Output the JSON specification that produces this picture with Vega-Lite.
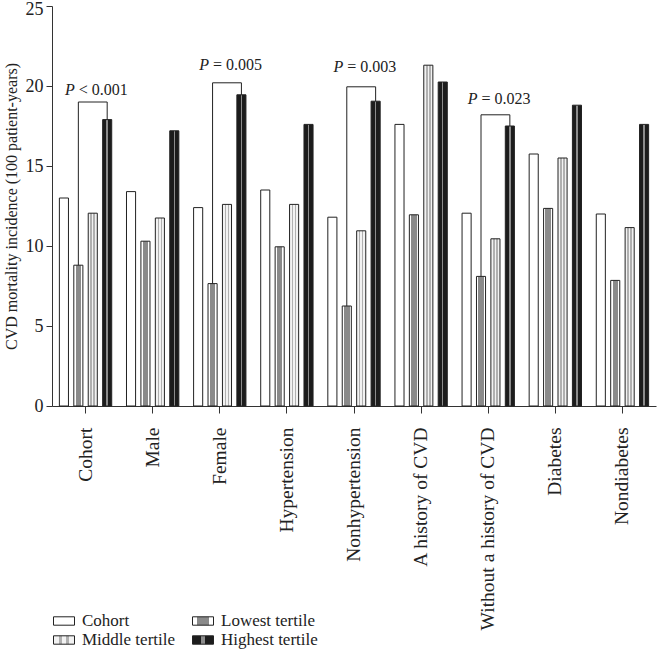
{
  "$schema": "https://vega.github.io/schema/vega-lite/v6.json",
  "width": 604,
  "height": 400,
  "autosize": {"type": "none"},
  "padding": {"left": 52, "top": 6, "right": 2, "bottom": 243},
  "background": "white",
  "config": {
    "font": "Liberation Serif",
    "view": {"stroke": null},
    "axis": {"domainColor": "#333", "tickColor": "#333", "labelColor": "#222", "titleColor": "#222", "grid": false, "labelFont": "Liberation Serif", "titleFont": "Liberation Serif", "titleFontWeight": "normal"}
  },
  "datasets": {
    "bars": [
      {"group": "Cohort", "series": "Cohort", "value": 13.0},
      {"group": "Cohort", "series": "Lowest tertile", "value": 8.8},
      {"group": "Cohort", "series": "Middle tertile", "value": 12.05},
      {"group": "Cohort", "series": "Highest tertile", "value": 17.9},
      {"group": "Male", "series": "Cohort", "value": 13.4},
      {"group": "Male", "series": "Lowest tertile", "value": 10.3},
      {"group": "Male", "series": "Middle tertile", "value": 11.75},
      {"group": "Male", "series": "Highest tertile", "value": 17.2},
      {"group": "Female", "series": "Cohort", "value": 12.4},
      {"group": "Female", "series": "Lowest tertile", "value": 7.65},
      {"group": "Female", "series": "Middle tertile", "value": 12.6},
      {"group": "Female", "series": "Highest tertile", "value": 19.45},
      {"group": "Hypertension", "series": "Cohort", "value": 13.5},
      {"group": "Hypertension", "series": "Lowest tertile", "value": 9.95},
      {"group": "Hypertension", "series": "Middle tertile", "value": 12.6},
      {"group": "Hypertension", "series": "Highest tertile", "value": 17.6},
      {"group": "Nonhypertension", "series": "Cohort", "value": 11.8},
      {"group": "Nonhypertension", "series": "Lowest tertile", "value": 6.25},
      {"group": "Nonhypertension", "series": "Middle tertile", "value": 10.95},
      {"group": "Nonhypertension", "series": "Highest tertile", "value": 19.05},
      {"group": "A history of CVD", "series": "Cohort", "value": 17.6},
      {"group": "A history of CVD", "series": "Lowest tertile", "value": 11.95},
      {"group": "A history of CVD", "series": "Middle tertile", "value": 21.3},
      {"group": "A history of CVD", "series": "Highest tertile", "value": 20.25},
      {"group": "Without a history of CVD", "series": "Cohort", "value": 12.05},
      {"group": "Without a history of CVD", "series": "Lowest tertile", "value": 8.1},
      {"group": "Without a history of CVD", "series": "Middle tertile", "value": 10.45},
      {"group": "Without a history of CVD", "series": "Highest tertile", "value": 17.5},
      {"group": "Diabetes", "series": "Cohort", "value": 15.75},
      {"group": "Diabetes", "series": "Lowest tertile", "value": 12.35},
      {"group": "Diabetes", "series": "Middle tertile", "value": 15.5},
      {"group": "Diabetes", "series": "Highest tertile", "value": 18.8},
      {"group": "Nondiabetes", "series": "Cohort", "value": 12.0},
      {"group": "Nondiabetes", "series": "Lowest tertile", "value": 7.85},
      {"group": "Nondiabetes", "series": "Middle tertile", "value": 11.15},
      {"group": "Nondiabetes", "series": "Highest tertile", "value": 17.6}
    ],
    "brackets": [
      {"group": "Cohort", "series": "Lowest tertile", "value": 8.8, "step": 1},
      {"group": "Cohort", "series": "Lowest tertile", "value": 19.0, "step": 2},
      {"group": "Cohort", "series": "Highest tertile", "value": 19.0, "step": 3},
      {"group": "Cohort", "series": "Highest tertile", "value": 17.9, "step": 4},
      {"group": "Female", "series": "Lowest tertile", "value": 7.65, "step": 1},
      {"group": "Female", "series": "Lowest tertile", "value": 20.2, "step": 2},
      {"group": "Female", "series": "Highest tertile", "value": 20.2, "step": 3},
      {"group": "Female", "series": "Highest tertile", "value": 19.45, "step": 4},
      {"group": "Nonhypertension", "series": "Lowest tertile", "value": 6.25, "step": 1},
      {"group": "Nonhypertension", "series": "Lowest tertile", "value": 19.95, "step": 2},
      {"group": "Nonhypertension", "series": "Highest tertile", "value": 19.95, "step": 3},
      {"group": "Nonhypertension", "series": "Highest tertile", "value": 19.05, "step": 4},
      {"group": "Without a history of CVD", "series": "Lowest tertile", "value": 8.1, "step": 1},
      {"group": "Without a history of CVD", "series": "Lowest tertile", "value": 18.2, "step": 2},
      {"group": "Without a history of CVD", "series": "Highest tertile", "value": 18.2, "step": 3},
      {"group": "Without a history of CVD", "series": "Highest tertile", "value": 17.5, "step": 4}
    ],
    "labels": [
      {"group": "Cohort", "series": "Middle tertile", "value": 19.45, "p": "P", "rest": "< 0.001"},
      {"group": "Female", "series": "Middle tertile", "value": 21.0, "p": "P", "rest": "= 0.005"},
      {"group": "Nonhypertension", "series": "Middle tertile", "value": 20.85, "p": "P", "rest": "= 0.003"},
      {"group": "Without a history of CVD", "series": "Middle tertile", "value": 18.9, "p": "P", "rest": "= 0.023"}
    ]
  },
  "layer": [
    {
      "data": {"name": "bars"},
      "mark": {"type": "bar", "stroke": "#222", "strokeWidth": 1},
      "encoding": {
        "x": {
          "field": "group", "type": "nominal",
          "scale": {"domain": ["Cohort", "Male", "Female", "Hypertension", "Nonhypertension", "A history of CVD", "Without a history of CVD", "Diabetes", "Nondiabetes"], "paddingInner": 0.22, "paddingOuter": 0.11},
          "axis": {"title": null, "labelAngle": -90, "labelFontSize": 19.5, "labelLimit": 400, "tickSize": 7, "labelPadding": 14, "domainWidth": 1}
        },
        "xOffset": {
          "field": "series", "type": "nominal",
          "scale": {"domain": ["Cohort", "Lowest tertile", "Middle tertile", "Highest tertile"], "paddingInner": 0.37, "paddingOuter": 0}
        },
        "y": {
          "field": "value", "type": "quantitative",
          "scale": {"domain": [0, 25], "nice": false},
          "axis": {"title": "CVD mortality incidence (100 patient-years)", "values": [0, 5, 10, 15, 20, 25], "labelFontSize": 18, "titleFontSize": 16, "tickSize": 6, "labelPadding": 3, "titlePadding": 6,
                   "labelOffset": {"condition": {"test": "datum.value == 25", "value": 3}, "value": 0}}
        },
        "fill": {
          "field": "series", "type": "nominal",
          "scale": {
            "domain": ["Cohort", "Lowest tertile", "Middle tertile", "Highest tertile"],
            "range": [
              "#ffffff",
              {"expr": "{id: 'gLow', gradient: 'linear', x1: 0, y1: 0, x2: 1, y2: 0, stops: [{offset: 0, color: '#ffffff'}, {offset: 0.2, color: '#ffffff'}, {offset: 0.2, color: '#8a8a8a'}, {offset: 0.8, color: '#8a8a8a'}, {offset: 0.8, color: '#ffffff'}, {offset: 1, color: '#ffffff'}]}"},
              {"expr": "{id: 'gMid', gradient: 'linear', x1: 0, y1: 0, x2: 1, y2: 0, stops: [{offset: 0, color: '#f2f2f2'}, {offset: 0.25, color: '#f2f2f2'}, {offset: 0.25, color: '#b0b0b0'}, {offset: 0.42, color: '#b0b0b0'}, {offset: 0.42, color: '#f2f2f2'}, {offset: 0.58, color: '#f2f2f2'}, {offset: 0.58, color: '#b0b0b0'}, {offset: 0.75, color: '#b0b0b0'}, {offset: 0.75, color: '#f2f2f2'}, {offset: 1, color: '#f2f2f2'}]}"},
              {"expr": "{id: 'gHigh', gradient: 'linear', x1: 0, y1: 0, x2: 1, y2: 0, stops: [{offset: 0, color: '#1c1c1c'}, {offset: 0.42, color: '#1c1c1c'}, {offset: 0.42, color: '#8c8c8c'}, {offset: 0.58, color: '#8c8c8c'}, {offset: 0.58, color: '#1c1c1c'}, {offset: 1, color: '#1c1c1c'}]}"}
            ]
          },
          "legend": {
            "title": null, "orient": "none", "legendX": 1, "legendY": 604, "columns": 2, "direction": "horizontal",
            "symbolType": "M-1,-0.4H1V0.4H-1Z", "symbolSize": 441, "symbolStrokeColor": "#222", "symbolStrokeWidth": 1,
            "labelFontSize": 17, "labelColor": "#222", "labelFont": "Liberation Serif", "labelOffset": 7, "columnPadding": 14, "rowPadding": 0, "padding": 0, "labelLimit": 300
          }
        }
      }
    },
    {
      "data": {"name": "brackets"},
      "mark": {"type": "line", "color": "#222", "strokeWidth": 1},
      "encoding": {
        "x": {"field": "group", "type": "nominal"},
        "xOffset": {"field": "series", "type": "nominal"},
        "y": {"field": "value", "type": "quantitative"},
        "detail": {"field": "group"},
        "order": {"field": "step", "type": "quantitative"}
      }
    },
    {
      "data": {"name": "labels"},
      "mark": {"type": "text", "fontStyle": "italic", "fontSize": 16, "align": "right", "baseline": "alphabetic", "dx": -18, "color": "#222"},
      "encoding": {
        "x": {"field": "group", "type": "nominal"},
        "xOffset": {"field": "series", "type": "nominal"},
        "y": {"field": "value", "type": "quantitative"},
        "text": {"field": "p"}
      }
    },
    {
      "data": {"name": "labels"},
      "mark": {"type": "text", "fontSize": 16, "align": "left", "baseline": "alphabetic", "dx": -14, "color": "#222"},
      "encoding": {
        "x": {"field": "group", "type": "nominal"},
        "xOffset": {"field": "series", "type": "nominal"},
        "y": {"field": "value", "type": "quantitative"},
        "text": {"field": "rest"}
      }
    }
  ]
}
